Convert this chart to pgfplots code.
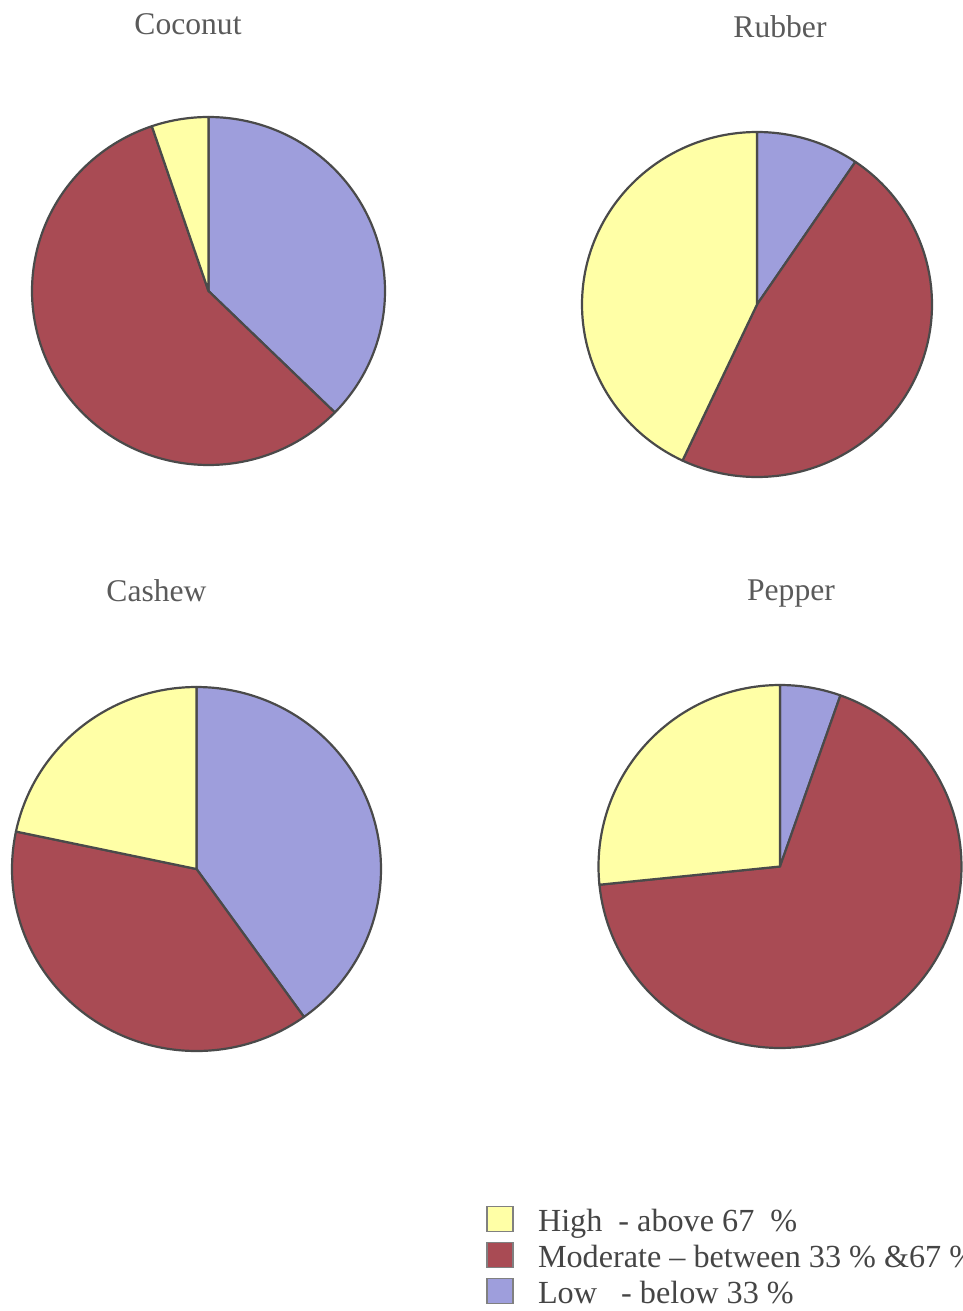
\documentclass[border=0pt]{standalone}
\usepackage{pgfplots}
\pgfplotsset{compat=1.18}
\usepackage{pgfplotstable}
\usepackage{fontspec}
\setmainfont{Liberation Serif}

\definecolor{highc}{HTML}{FFFFA6}
\definecolor{modc}{HTML}{A94B54}
\definecolor{lowc}{HTML}{9E9EDC}
\definecolor{edgec}{HTML}{4A4A4A}
\definecolor{titlec}{HTML}{5A5A5A}
\definecolor{textc}{HTML}{454545}

% Share of area (percent) by level, clockwise from 12 o'clock: low, moderate, high
\pgfplotstableread{
crop     low   moderate  high
Coconut  37.3  57.5      5.2
Rubber   9.5   47.5      43.0
Cashew   40.1  38.2      21.7
Pepper   5.4   68.0      26.6
}\shares

\pgfplotsset{
  pie axis/.style={anchor=center, scale only axis, hide axis,
    xmin=-1, xmax=1, ymin=-1, ymax=1, clip=false},
  slice/.style={draw=edgec, line width=1.1pt, line join=round, samples=120},
  sq legend/.style={legend image code/.code={%
    \draw[##1] (0pt,-4pt) rectangle (13pt,8.5pt);}},
}

% #1 row of the table, #2 centre, #3 width, #4 height
\newcommand{\pie}[4]{%
  \pgfplotstablegetelem{#1}{low}\of\shares \edef\lowv{\pgfplotsretval}%
  \pgfplotstablegetelem{#1}{moderate}\of\shares \edef\modv{\pgfplotsretval}%
  \pgfplotstablegetelem{#1}{high}\of\shares \edef\highv{\pgfplotsretval}%
  \pgfmathsetmacro\aA{90}%
  \pgfmathsetmacro\aB{90-3.6*\lowv}%
  \pgfmathsetmacro\aC{\aB-3.6*\modv}%
  \pgfmathsetmacro\aD{\aC-3.6*\highv}%
  \begin{axis}[pie axis, at={#2}, width=#3, height=#4]
    \addplot[slice, fill=lowc,  domain=\aB:\aA] ({cos(x)},{sin(x)}) -- (axis cs:0,0) -- cycle;
    \addplot[slice, fill=modc,  domain=\aC:\aB] ({cos(x)},{sin(x)}) -- (axis cs:0,0) -- cycle;
    \addplot[slice, fill=highc, domain=\aD:\aC] ({cos(x)},{sin(x)}) -- (axis cs:0,0) -- cycle;
  \end{axis}
}

\begin{document}
\begin{tikzpicture}
  \path[use as bounding box] (0pt,0pt) rectangle (481.5pt,-655.5pt);
  \clip (0pt,0pt) rectangle (481.5pt,-655.5pt);

  \pie{0}{(104.25pt,-145.5pt)}{176.5pt}{174pt}
  \pie{1}{(378.5pt,-152.25pt)}{175pt}{172.5pt}
  \pie{2}{(98.25pt,-434.5pt)}{184.5pt}{182pt}
  \pie{3}{(390pt,-433.25pt)}{181.5pt}{181.5pt}

  \begin{scope}[font=\fontsize{15.8}{19}\selectfont, text=titlec]
    \node[anchor=base] at (94pt,-17.5pt) {Coconut};
    \node[anchor=base] at (390pt,-19pt) {Rubber};
    \node[anchor=base] at (78.25pt,-300.5pt) {Cashew};
    \node[anchor=base] at (395.5pt,-300pt) {Pepper};
  \end{scope}

  % legend
  \begin{axis}[hide axis, scale only axis, width=10pt, height=10pt,
      xmin=0, xmax=1, ymin=0, ymax=1,
      at={(243pt,-602.5pt)}, anchor=north west,
      legend style={at={(0,1)}, anchor=north west, draw=none, fill=none,
        inner sep=0pt, row sep=0pt, column sep=0pt,
        font=\fontsize{16.1}{18}\selectfont, text=textc,
        nodes={inner sep=1pt, text height=12pt, text depth=4pt}},
      legend cell align=left]
    \addlegendimage{sq legend, fill=highc, draw=edgec!70, line width=0.8pt}
    \addlegendentry{\hspace{11pt}High\ \ - above 67\ \ \%}
    \addlegendimage{sq legend, fill=modc, draw=edgec!70, line width=0.8pt}
    \addlegendentry{\hspace{11pt}Moderate -- between 33 \% \&67 \%}
    \addlegendimage{sq legend, fill=lowc, draw=edgec!70, line width=0.8pt}
    \addlegendentry{\hspace{11pt}Low\ \ \ - below 33 \%}
  \end{axis}
\end{tikzpicture}
\end{document}
